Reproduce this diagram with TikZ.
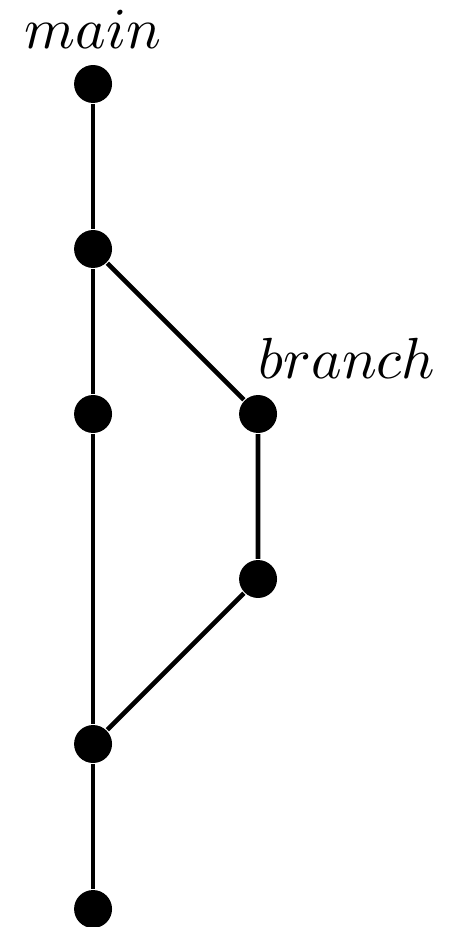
\documentclass[tikz,border=0pt]{standalone}
\begin{document}
\begin{tikzpicture}[
        commit/.style={circle,fill=black,inner sep=0pt,minimum size=0.23cm},
        hist/.style={line width=0.8pt},
        every label/.append style={inner sep=2.4pt}
    ]
    \useasboundingbox (-0.564,0.509) rectangle (2.218,-5.109);
    % main line
    \node[commit,label=above:$main$] (m0) at (0,0) {};
    \node[commit] (m1) at (0,-1) {};
    \node[commit] (m2) at (0,-2) {};
    \node[commit] (m3) at (0,-4) {};
    \node[commit] (m4) at (0,-5) {};
    % side branch
    \node[commit,label={[xshift=0.54cm]above:$branch$}] (b0) at (1,-2) {};
    \node[commit] (b1) at (1,-3) {};
    \draw[hist] (m0) -- (m1) -- (m2) -- (m3) -- (m4);
    \draw[hist] (m1) -- (b0) -- (b1) -- (m3);
\end{tikzpicture}
\end{document}
